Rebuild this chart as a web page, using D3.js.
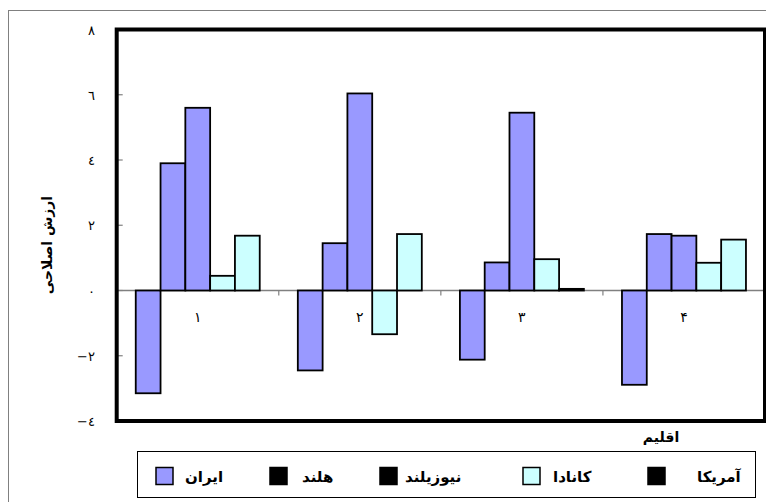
<!DOCTYPE html>
<html>
<head>
<meta charset="utf-8">
<script src="https://cdn.jsdelivr.net/npm/d3@7/dist/d3.min.js"></script>
<style>
  html, body { margin: 0; padding: 0; background: #fff; }
  svg { display: block; }
  text { font-family: "DejaVu Sans", "Noto Sans", sans-serif; }
</style>
</head>
<body>
<svg id="chart" width="766" height="502"></svg>
<script>
// ---- data ----
const categories = ["۱", "۲", "۳", "۴"];
const seriesNames = ["ایران", "هلند", "نیوزیلند", "کانادا", "آمریکا"];
const iran     = [-3.15, -2.45, -2.12, -2.89];
const holland  = [3.90, 1.45, 0.86, 1.73];
const newZeal  = [5.60, 6.04, 5.45, 1.68];
const canada   = [0.45, -1.34, 0.96, 0.85];
const usa      = [1.68, 1.73, 0.05, 1.56];
const yTicks = [-4, -2, 0, 2, 4, 6, 8];
const yTickLabels = ["−٤", "−٢", "٠", "٢", "٤", "٦", "٨"];
const yTitle = "ارزش اصلاحی";
const xTitle = "اقلیم";

// ---- styles / layout ----
const PURPLE = "#9999ff", CYAN = "#ccffff", BLACK = "#000000";
const barFill = [PURPLE, PURPLE, PURPLE, CYAN, CYAN];
const legendFill = [PURPLE, BLACK, BLACK, CYAN, BLACK];
const legendBoxX = [156, 270, 380, 523, 648];
const legendTextX = [185, 302, 405, 553, 697];

const allSeries = [iran, holland, newZeal, canada, usa];
const rows = categories.map((c, i) => ({ cat: c, vals: allSeries.map(s => s[i]) }));

const svg = d3.select("#chart");
const plot = { left: 116.7, top: 29.5, right: 765, bottom: 421 };

// outer chart frame
svg.append("rect").attr("x", 8.5).attr("y", 10.5).attr("width", 800).attr("height", 520)
  .attr("fill", "#fff").attr("stroke", "#808080").attr("stroke-width", 1);

const x0 = d3.scaleBand().domain(categories).range([plot.left, plot.right])
  .paddingInner(0.235).paddingOuter(0.1175);
const x1 = d3.scaleBand().domain(d3.range(seriesNames.length)).range([0, x0.bandwidth()]);
const y = d3.scaleLinear().domain([-4, 8]).range([plot.bottom, plot.top]);

// zero line
svg.append("line").attr("x1", plot.left).attr("x2", plot.right)
  .attr("y1", y(0)).attr("y2", y(0)).attr("stroke", "#808080").attr("stroke-width", 1.5);

// category boundary ticks
const step = x0.step();
svg.selectAll("line.ctick").data(categories.slice(1)).join("line")
  .attr("class", "ctick")
  .attr("x1", d => x0(d) - x0.bandwidth() * 0 - (step - x0.bandwidth()) / 2)
  .attr("x2", d => x0(d) - (step - x0.bandwidth()) / 2)
  .attr("y1", y(0)).attr("y2", y(0) + 5)
  .attr("stroke", "#808080").attr("stroke-width", 1.2);

// y ticks (inward)
svg.selectAll("line.ytick").data(yTicks.filter(v => v > -4 && v < 8)).join("line")
  .attr("class", "ytick")
  .attr("x1", plot.left).attr("x2", plot.left + 6)
  .attr("y1", d => y(d)).attr("y2", d => y(d))
  .attr("stroke", "#808080").attr("stroke-width", 1.2);

// bars
const groups = svg.selectAll("g.cat").data(rows).join("g")
  .attr("class", "cat").attr("transform", d => `translate(${x0(d.cat)},0)`);
groups.selectAll("rect").data(d => d.vals.map((v, i) => ({ v, i }))).join("rect")
  .attr("x", d => x1(d.i))
  .attr("width", x1.bandwidth())
  .attr("y", d => y(Math.max(0, d.v)))
  .attr("height", d => Math.abs(y(d.v) - y(0)))
  .attr("fill", d => barFill[d.i])
  .attr("stroke", "#000").attr("stroke-width", 1.8);

// category labels
svg.selectAll("text.cat").data(categories).join("text")
  .attr("class", "cat")
  .attr("x", d => x0(d) + x0.bandwidth() / 2)
  .attr("y", y(0) + 31)
  .attr("text-anchor", "middle")
  .attr("font-size", 14)
  .text(d => d);

// plot border
svg.append("rect")
  .attr("x", plot.left).attr("y", plot.top)
  .attr("width", plot.right - plot.left).attr("height", plot.bottom - plot.top)
  .attr("fill", "none").attr("stroke", "#000").attr("stroke-width", 4);

// y tick labels
svg.selectAll("text.ylab").data(yTicks).join("text")
  .attr("class", "ylab")
  .attr("x", 95).attr("y", d => y(d) + 5)
  .attr("text-anchor", "end")
  .attr("font-size", 13)
  .text((d, i) => yTickLabels[i]);

// y title
svg.append("text")
  .attr("transform", "translate(52,245) rotate(-90)")
  .attr("text-anchor", "middle")
  .attr("font-size", 14).attr("font-weight", "bold")
  .text(yTitle);

// x title
svg.append("text")
  .attr("x", 661).attr("y", 442)
  .attr("text-anchor", "middle")
  .attr("font-size", 14).attr("font-weight", "bold")
  .text(xTitle);

// legend
svg.append("rect").attr("x", 137.5).attr("y", 451.5).attr("width", 618).attr("height", 46)
  .attr("fill", "#fff").attr("stroke", "#000").attr("stroke-width", 1);
const leg = svg.selectAll("g.leg").data(seriesNames).join("g").attr("class", "leg");
leg.append("rect")
  .attr("x", (d, i) => legendBoxX[i]).attr("y", 467.5)
  .attr("width", 17).attr("height", 17)
  .attr("fill", (d, i) => legendFill[i])
  .attr("stroke", "#000").attr("stroke-width", 1.5);
leg.append("text")
  .attr("x", (d, i) => legendTextX[i]).attr("y", 482)
  .attr("text-anchor", "start")
  .attr("font-size", 15).attr("font-weight", "bold")
  .text(d => d);
</script>
</body>
</html>
